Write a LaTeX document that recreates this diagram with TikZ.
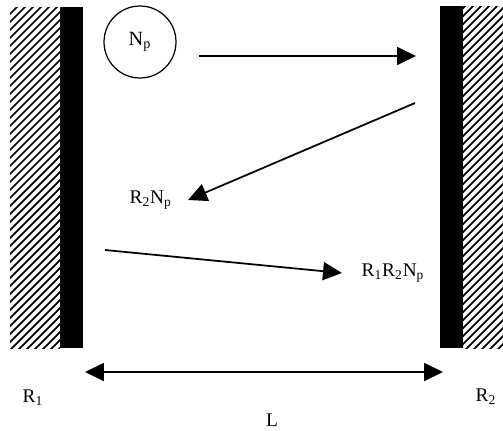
\documentclass[tikz,border=0pt]{standalone}
\usepackage{fontspec}
\setmainfont{Liberation Serif}
\usepackage{tikz}
\usetikzlibrary{arrows.meta,positioning}
\tikzset{
  wall/.style={fill=black, draw=none},
  hatch/.style={line width=1pt, line cap=round},
  ar/.style={-{Triangle[length=3.8mm, width=3.6mm]}, line width=1pt},
  arboth/.style={{Triangle[length=3.8mm, width=3.6mm]}-{Triangle[length=3.8mm, width=3.6mm]}, line width=1pt},
  lbl/.style={font=\fontsize{11}{13}\selectfont, inner sep=1pt},
  photon/.style={draw, circle, line width=.7pt, minimum size=1.44cm, font=\fontsize{11.5}{13}\selectfont},
}

\begin{document}
\begin{tikzpicture}[x=0.02cm, y=-0.02cm]
    \useasboundingbox (0,0) rectangle (503,430);
    % mirrors
    \begin{scope}
      \clip (10,7) rectangle (60,348);
      \foreach \i in {-60,-52,...,400} \draw[hatch] (6,\i+54) -- (64,\i-4);
    \end{scope}
    \begin{scope}
      \clip (463,6) rectangle (503,348);
      \foreach \i in {-60,-52,...,400} \draw[hatch] (459,\i+48) -- (507,\i);
    \end{scope}
    \fill[wall] (60,7) rectangle (83,348);
    \fill[wall] (440,6) rectangle (463,348);
    % beam
    \node[photon] (np) at (140,42) {N\textsubscript{p}};
    \coordinate (a1s) at (199,56);
    \coordinate (a1e) at (416,56);
    \draw[ar] (a1s) -- (a1e);
    \node[lbl, anchor=east, inner xsep=9pt] (r2np) at (188,200) {R\textsubscript{2}N\textsubscript{p}};
    \coordinate (a2s) at (415,103);
    \draw[ar] (a2s) -- (r2np.east);
    \node[lbl, anchor=west, inner xsep=11pt] (r1r2np) at (342,273) {R\textsubscript{1}R\textsubscript{2}N\textsubscript{p}};
    \coordinate (a3s) at (105,250);
    \draw[ar] (a3s) -- (r1r2np.west);
    % length
    \coordinate (l1) at (85,372);
    \coordinate (l2) at (443,372);
    \draw[arboth] (l1) -- (l2);
    \node[lbl] (r1) at (33,398) {R\textsubscript{1}};
    \node[lbl] (r2) at (486,397) {R\textsubscript{2}};
    \node[lbl] (len) at (272,420) {L};
\end{tikzpicture}
\end{document}
